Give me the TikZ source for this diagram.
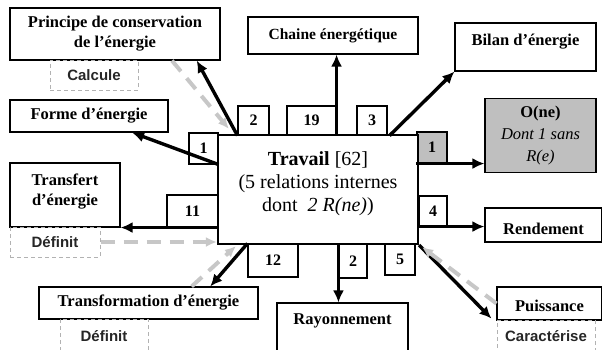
\documentclass[tikz,border=0pt]{standalone}
\usepackage{fontspec}
\setmainfont{Liberation Serif}
\newfontfamily\sansfnt{Liberation Sans}
\usetikzlibrary{arrows.meta,calc}

\begin{document}
\begin{tikzpicture}[x=1pt,y=1pt,yscale=-1,
    box/.style={draw,line width=1.1pt,inner sep=2pt,align=center,font=\fontsize{16.5}{20}\selectfont\bfseries},
    numbox/.style={draw,line width=1.1pt,inner sep=1pt,font=\fontsize{16}{18}\selectfont\bfseries},
    tagbox/.style={draw=black!30,dash pattern=on 4pt off 3pt,line width=1pt,text=black!85,font=\sansfnt\fontsize{15}{18}\selectfont\bfseries},
    arr/.style={line width=3.4pt,-{Latex[length=12pt,width=11pt]}},
    garr/.style={draw=black!22,line width=4pt,dash pattern=on 14pt off 9pt,-{Latex[length=11pt,width=10pt]}}]
    \useasboundingbox (0,0) rectangle (602,349);

    % outer boxes
    \node[box,minimum width=210,minimum height=52] (principe) at (115,34) {Principe de conservation\\de l'énergie};
    \node[tagbox,minimum width=88,minimum height=30] (calcule) at (94,75) {Calcule};
    \node[box,font=\fontsize{15.5}{18}\selectfont\bfseries,minimum width=170,minimum height=37] (chaine) at (333,35.5) {Chaine énergétique};
    \node[box,minimum width=141,minimum height=48,text height=12pt,text depth=16pt] (bilan) at (525.5,47) {Bilan d'énergie};
    \node[box,fill=black!25,minimum width=111,minimum height=74,font=\fontsize{16.5}{22}\selectfont\bfseries] (one) at (540.5,135.5) {O(ne)\\{\normalfont\itshape Dont 1 sans}\\{\normalfont\itshape R(e)}};
    \node[box,minimum width=117,minimum height=34,text height=21pt,text depth=3pt] (rendement) at (543.5,225) {Rendement};
    \node[box,minimum width=158,minimum height=32] (forme) at (89,116) {Forme d'énergie};
    \node[box,minimum width=110,minimum height=64,text depth=10pt] (transfert) at (65,195) {Transfert\\d'énergie};
    \node[tagbox,minimum width=90,minimum height=30] (definit1) at (55,242) {Définit};
    \node[box,minimum width=219,minimum height=32] (transformation) at (148.5,303) {Transformation d'énergie};
    \node[tagbox,minimum width=88,minimum height=34] (definit2) at (104,336) {Définit};
    \node[box,minimum width=131,minimum height=56,text height=12pt,text depth=26pt] (rayonnement) at (342.5,331) {Rayonnement};
    \node[box,minimum width=105,minimum height=33,text height=18pt,text depth=3pt] (puissance) at (549.5,303.5) {Puissance};
    \node[tagbox,minimum width=98,minimum height=32] (caracterise) at (546,336) {Caractérise};

    % counts round the central box
    \node[numbox,minimum width=31,minimum height=29] (n2a) at (253.5,120.5) {2};
    \node[numbox,minimum width=49,minimum height=29] (n19) at (311.5,120.5) {19};
    \node[numbox,minimum width=30,minimum height=29] (n3) at (372,120.5) {3};
    \node[numbox,minimum width=29,minimum height=31] (n1a) at (203.5,148.5) {1};
    \node[numbox,minimum width=51,minimum height=32] (n11) at (192.5,211) {11};
    \node[numbox,fill=black!25,minimum width=30,minimum height=31] (n1b) at (432,147.5) {1};
    \node[numbox,minimum width=28,minimum height=30] (n4) at (433,211) {4};
    \node[numbox,minimum width=50,minimum height=33] (n12) at (273,260.5) {12};
    \node[numbox,minimum width=28,minimum height=34] (n2b) at (353,261) {2};
    \node[numbox,minimum width=30,minimum height=31] (n5) at (400,259.5) {5};

    % central box
    \node[draw,fill=white,line width=2.2pt,minimum width=200,minimum height=109,align=center,font=\fontsize{20}{23}\selectfont,text depth=16pt] (travail) at (318,189.5) {\textbf{Travail} [62]\\(5 relations internes\\dont~ \textit{2 R(ne)})};

    % black arrows
    \draw[arr] (n2a.south west) -- (principe.-18);
    \draw[arr] (n19.south east) -- (n19.south east |- chaine.south);
    \draw[arr] ($(n3.south east)+(2,0)$) -- (bilan.south west);
    \draw[arr] (n1a.south east) -- (forme.-21);
    \draw[arr] (n1b.south west) -- (n1b.south west -| one.west);
    \draw[arr] (n4.south west) -- (n4.south west -| rendement.west);
    \draw[arr] (n11.south east) -- (n11.south east -| transfert.east);
    \draw[arr] (n12.north west) -- (transformation.15);
    \draw[arr] (n2b.north west) -- (n2b.north west |- rayonnement.north);
    \draw[arr] (travail.south east) -- ($(puissance.south west)+(-5,-2)$);

    % grey dashed arrows
    \draw[garr] (principe.-25) -- ($(travail.north west)+(12,-5)$);
    \draw[garr] (definit1.east) -- (definit1.east -| travail.west);
    \draw[garr] (transformation.21) -- ($(travail.south west)+(19,1)$);
    \draw[garr] (puissance.west) -- ($(travail.south east)+(3,2)$);
\end{tikzpicture}
\end{document}
